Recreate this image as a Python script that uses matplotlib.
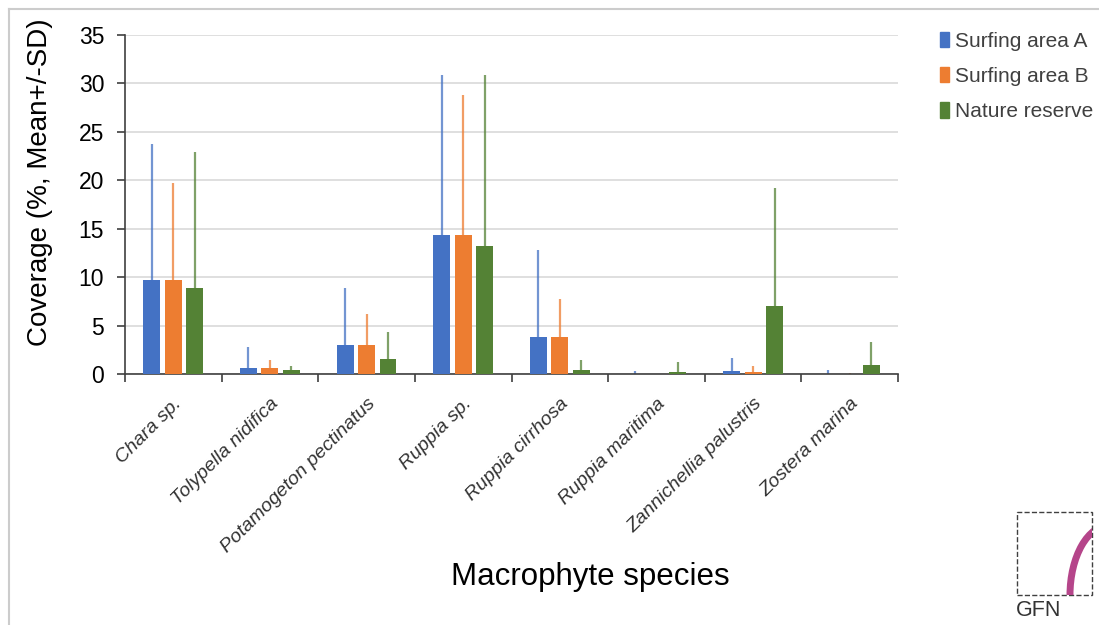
import numpy as np
import matplotlib.pyplot as plt
from matplotlib.patches import Rectangle, Arc
from matplotlib.lines import Line2D

plt.rcParams['font.family'] = ['Liberation Sans', 'DejaVu Sans']

species = ['Chara sp.', 'Tolypella nidifica', 'Potamogeton pectinatus', 'Ruppia sp.',
           'Ruppia cirrhosa', 'Ruppia maritima', 'Zannichellia palustris', 'Zostera marina']
series = ['Surfing area A', 'Surfing area B', 'Nature reserve']

mean_a = [9.7, 0.6, 3.0, 14.4, 3.8, 0.05, 0.3, 0.05]
mean_b = [9.7, 0.6, 3.0, 14.4, 3.8, 0.0, 0.25, 0.02]
mean_c = [8.9, 0.4, 1.6, 13.2, 0.4, 0.25, 7.0, 0.95]
# upper end of the error bar (mean + SD)
top_a = [23.7, 2.8, 8.9, 30.9, 12.8, 0.3, 1.7, 0.45]
top_b = [19.7, 1.4, 6.2, 28.8, 7.7, 0.0, 0.8, 0.15]
top_c = [22.9, 0.8, 4.3, 30.9, 1.4, 1.2, 19.2, 3.3]

colors = ['#4472C4', '#ED7D31', '#548235']

W, H = 1099, 625
fig = plt.figure(figsize=(W / 100, H / 100), dpi=100)
ax = fig.add_axes([125 / W, 1 - 374 / H, 773 / W, 339 / H])

x = np.arange(len(species))
width = 0.175
step = 0.222
means = [mean_a, mean_b, mean_c]
tops = [top_a, top_b, top_c]
for i in range(3):
    xi = x + (i - 1) * step
    m = np.array(means[i])
    sd = np.clip(np.array(tops[i]) - m, 0, None)
    ax.bar(xi, m, width=width, color=colors[i], label=series[i], zorder=3)
    ax.errorbar(xi, m, yerr=[np.zeros_like(sd), sd], fmt='none', ecolor=colors[i],
                elinewidth=1.6, capsize=0, alpha=0.75, zorder=2)

ax.set_xlim(-0.5, len(species) - 0.5)
ax.set_ylim(0, 35)
ax.set_yticks(np.arange(0, 36, 5))
ax.yaxis.grid(True, color='#d9d9d9', linewidth=1.2, zorder=0)
ax.set_axisbelow(True)
ax.spines['top'].set_visible(False)
ax.spines['right'].set_visible(False)
for s in ['left', 'bottom']:
    ax.spines[s].set_color('#404040')
    ax.spines[s].set_linewidth(1.2)

ax.set_xticks(x)
ax.set_xticklabels([])
ax.set_xticks(np.arange(-0.5, len(species)), minor=True)
ax.tick_params(axis='x', which='major', length=0)
ax.tick_params(axis='x', which='minor', length=6, color='#404040', width=1.2)
ax.tick_params(axis='y', length=6, color='#404040', width=1.2, labelsize=16.5, pad=9)

for xi, name in zip(x, species):
    ax.text(xi, -2.2, name, rotation=45, ha='right', va='top',
            rotation_mode='anchor', style='italic', fontsize=14, color='#333333')

ax.set_ylabel('Coverage (%, Mean+/-SD)', fontsize=20)
ax.yaxis.set_label_coords(53 / W, 1 - 182 / H, transform=fig.transFigure)
fig.text(590 / W, 1 - 577 / H, 'Macrophyte species', fontsize=22.5, ha='center', va='center')

handles = [Rectangle((0, 0), 1, 1, color=c) for c in colors]
fig.legend(handles, series, loc='upper left', bbox_to_anchor=(921 / W, 1 - 13 / H),
           frameon=False, fontsize=15, handlelength=0.45, handleheight=0.75,
           handletextpad=0.3, labelspacing=0.78, labelcolor='#404040')

# outer frame
fig.add_artist(Line2D([9 / W, 9 / W], [0, 1 - 9 / H], transform=fig.transFigure,
                      color='#cccccc', linewidth=1.5))
fig.add_artist(Line2D([9 / W, 1], [1 - 9 / H, 1 - 9 / H], transform=fig.transFigure,
                      color='#cccccc', linewidth=1.5))

# small logo box in the corner
box = Rectangle((1017 / W, 1 - 595 / H), 75 / W, 83 / H, transform=fig.transFigure,
                fill=False, linestyle='--', edgecolor='#404040', linewidth=1.0)
fig.add_artist(box)
arc = Arc((1110 / W, 1 - 595 / H), 80 / W, 140 / H, theta1=90, theta2=180,
          transform=fig.transFigure, color='#B5458A', linewidth=5)
arc.set_clip_path(box)
fig.add_artist(arc)
fig.text(1016 / W, 1 - 610 / H, 'GFN', fontsize=15.5, color='#333333', ha='left', va='center')

fig.savefig('out.png', dpi=100)
